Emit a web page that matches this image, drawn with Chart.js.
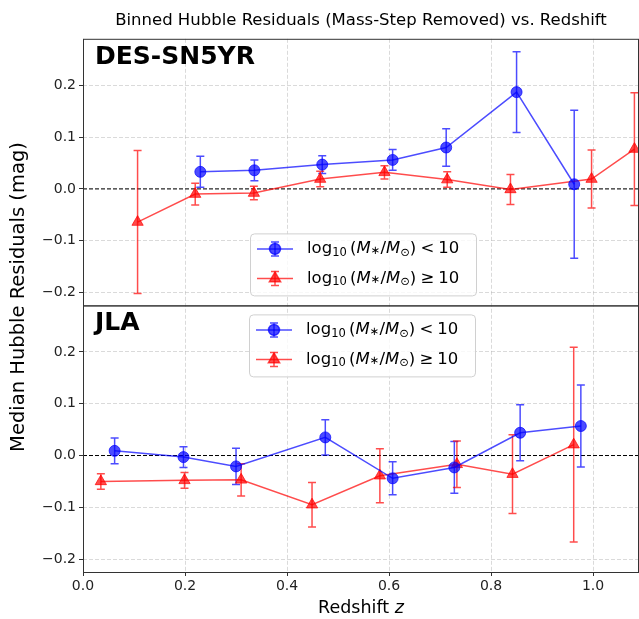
<!DOCTYPE html>
<html>
<head>
<meta charset="utf-8">
<script src="https://cdn.jsdelivr.net/npm/chart.js@4"></script>
<style>
  body { margin: 0; background: #fff; }
</style>
</head>
<body>
<canvas id="myChart" width="639" height="619"></canvas>
<script>
// DES-SN5YR, low mass hosts
const zDesLow = [0.230, 0.336, 0.469, 0.607, 0.712, 0.850, 0.963];
const resDesLow = [0.033, 0.036, 0.047, 0.056, 0.080, 0.187, 0.009];
const errDesLow = [0.030, 0.020, 0.017, 0.020, 0.036, 0.078, 0.143];

// DES-SN5YR, high mass hosts
const zDesHigh = [0.107, 0.220, 0.335, 0.465, 0.591, 0.714, 0.838, 0.997, 1.081];
const resDesHigh = [-0.064, -0.010, -0.008, 0.019, 0.032, 0.018, -0.001, 0.019, 0.077];
const errDesHigh = [0.138, 0.021, 0.013, 0.015, 0.013, 0.015, 0.029, 0.056, 0.109];

// JLA, low mass hosts
const zJlaLow = [0.062, 0.197, 0.300, 0.475, 0.607, 0.728, 0.857, 0.976];
const resJlaLow = [0.009, -0.003, -0.021, 0.035, -0.044, -0.023, 0.044, 0.057];
const errJlaLow = [0.025, 0.020, 0.035, 0.034, 0.032, 0.050, 0.054, 0.079];

// JLA, high mass hosts
const zJlaHigh = [0.035, 0.199, 0.310, 0.449, 0.582, 0.733, 0.842, 0.962];
const resJlaHigh = [-0.050, -0.048, -0.047, -0.095, -0.039, -0.017, -0.036, 0.021];
const errJlaHigh = [0.015, 0.015, 0.031, 0.043, 0.052, 0.045, 0.076, 0.188];

const panelNames = ['DES-SN5YR', 'JLA'];
const yTicks = [-0.2, -0.1, 0.0, 0.1, 0.2];
const xTicks = [0.0, 0.2, 0.4, 0.6, 0.8, 1.0];

const BLUE = 'rgba(0,0,255,0.7)';
const RED = 'rgba(255,0,0,0.7)';
const FONT = "'DejaVu Sans'";

Chart.defaults.font.family = FONT;
Chart.defaults.color = '#222';

function pts(xs, ys) {
	return xs.map((x, i) => ({x: x, y: ys[i]}));
}

function series(label, xs, ys, errs, color, style, axis) {
	return {
		label: label,
		data: pts(xs, ys),
		errors: errs,
		yAxisID: axis,
		borderColor: color,
		backgroundColor: color,
		borderWidth: 1.5,
		pointStyle: style,
		pointRadius: style == 'circle' ? 5.5 : 6.5,
		pointBorderWidth: 1,
		pointBackgroundColor: color,
		pointBorderColor: color,
		tension: 0,
	};
}

function tickFmt(v) {
	if (Math.abs(v) < 1e-9) return '0.0';
	return v.toFixed(1).replace('-', '\u2212');
}

// math-ish legend label: log10 (M*/Msun) < 10
function drawMathLabel(ctx, x, y, rel) {
	const fs = 16.5, ss = 11.5;
	const parts = [
		['log', fs + 'px ' + FONT, 0],
		['10', ss + 'px ' + FONT, 4],
		['\u2009(', fs + 'px ' + FONT, 0],
		['M', 'italic ' + fs + 'px ' + FONT, 0],
		['\u2217', ss + 'px ' + FONT, 2],
		['/', fs + 'px ' + FONT, 0],
		['M', 'italic ' + fs + 'px ' + FONT, 0],
		['\u2299', ss + 'px ' + FONT, 4],
		[')', fs + 'px ' + FONT, 0],
		['\u2005' + rel + '\u2005' + '10', fs + 'px ' + FONT, 0],
	];
	ctx.textAlign = 'left';
	ctx.textBaseline = 'middle';
	ctx.fillStyle = '#000';
	for (const p of parts) {
		ctx.font = p[1];
		ctx.fillText(p[0], x, y + p[2]);
		x += ctx.measureText(p[0]).width;
	}
}

function errorBar(ctx, x, y1, y2, cap) {
	ctx.beginPath();
	ctx.moveTo(x, y1); ctx.lineTo(x, y2);
	ctx.moveTo(x - cap, y1); ctx.lineTo(x + cap, y1);
	ctx.moveTo(x - cap, y2); ctx.lineTo(x + cap, y2);
	ctx.stroke();
}

const panelPlugin = {
	id: 'panels',
	beforeDatasetsDraw(chart) {
		const ctx = chart.ctx, area = chart.chartArea;
		ctx.save();
		// zero lines
		for (const id of ['yTop', 'yBot']) {
			const py = chart.scales[id].getPixelForValue(0);
			ctx.strokeStyle = '#000';
			ctx.lineWidth = 1;
			ctx.setLineDash([4, 2]);
			ctx.beginPath();
			ctx.moveTo(area.left, py);
			ctx.lineTo(area.right, py);
			ctx.stroke();
		}
		ctx.setLineDash([]);
		// error bars
		ctx.beginPath();
		ctx.rect(area.left, area.top, area.right - area.left, area.bottom - area.top);
		ctx.clip();
		chart.data.datasets.forEach((ds, i) => {
			const meta = chart.getDatasetMeta(i);
			const ys = chart.scales[ds.yAxisID];
			ctx.strokeStyle = ds.borderColor;
			ctx.lineWidth = 1.5;
			meta.data.forEach((el, j) => {
				const v = ds.data[j].y, e = ds.errors[j];
				errorBar(ctx, el.x, ys.getPixelForValue(v + e), ys.getPixelForValue(v - e), 4);
			});
		});
		ctx.restore();
	},
	afterDraw(chart) {
		const ctx = chart.ctx, area = chart.chartArea;
		const panels = [chart.scales.yTop, chart.scales.yBot];
		ctx.save();
		// frames
		ctx.strokeStyle = '#333';
		ctx.lineWidth = 1;
		panels.forEach(s => {
			ctx.strokeRect(area.left + 0.5, s.top + 0.5, area.right - area.left - 1, s.bottom - s.top);
		});
		// panel names
		ctx.fillStyle = '#000';
		ctx.font = 'bold 25px ' + FONT;
		ctx.textAlign = 'left';
		ctx.textBaseline = 'alphabetic';
		panels.forEach((s, k) => {
			ctx.fillText(panelNames[k], area.left + 12, s.top + 25);
		});
		// legends
		const boxes = [
			{left: 250, top: panels[0].bottom - 72},
			{left: 249, top: panels[1].top + 9},
		];
		boxes.forEach((b, k) => {
			const w = 226, h = 62;
			ctx.fillStyle = 'rgba(255,255,255,0.8)';
			ctx.strokeStyle = '#d0d0d0';
			ctx.lineWidth = 1;
			ctx.beginPath();
			ctx.roundRect(b.left + 0.5, b.top + 0.5, w, h, 4);
			ctx.fill();
			ctx.stroke();
			const dsPair = [chart.data.datasets[k * 2], chart.data.datasets[k * 2 + 1]];
			const rels = ['<', '\u2265'];
			dsPair.forEach((ds, r) => {
				const cy = b.top + 15.5 + r * 29.5;
				ctx.strokeStyle = ds.borderColor;
				ctx.lineWidth = 1.5;
				ctx.beginPath();
				ctx.moveTo(b.left + 7, cy);
				ctx.lineTo(b.left + 43, cy);
				ctx.stroke();
				errorBar(ctx, b.left + 25, cy - 7, cy + 7, 4);
				ctx.fillStyle = ds.backgroundColor;
				Chart.helpers.drawPoint(ctx, {
					pointStyle: ds.pointStyle,
					radius: ds.pointRadius,
					borderWidth: 1,
					rotation: 0,
				}, b.left + 25, cy);
				drawMathLabel(ctx, b.left + 57, cy, rels[r]);
			});
		});
		// axis titles
		ctx.fillStyle = '#000';
		ctx.font = '19.5px ' + FONT;
		ctx.textAlign = 'center';
		ctx.textBaseline = 'middle';
		ctx.save();
		ctx.translate(19, 297);
		ctx.rotate(-Math.PI / 2);
		ctx.fillText('Median Hubble Residuals (mag)', 0, 0);
		ctx.restore();
		const a = 'Redshift ', zt = 'z';
		ctx.font = '17.5px ' + FONT;
		const wa = ctx.measureText(a).width;
		ctx.font = 'italic 17.5px ' + FONT;
		const wz = ctx.measureText(zt).width;
		const x0 = (area.left + area.right) / 2 - (wa + wz) / 2;
		ctx.textAlign = 'left';
		ctx.font = '17.5px ' + FONT;
		ctx.fillText(a, x0, 608);
		ctx.font = 'italic 17.5px ' + FONT;
		ctx.fillText(zt, x0 + wa, 608);
		ctx.restore();
	}
};

function yAxis() {
	return {
		type: 'linear',
		position: 'left',
		stack: 'panels',
		stackWeight: 1,
		min: -0.225,
		max: 0.29,
		afterBuildTicks: s => { s.ticks = yTicks.map(v => ({value: v})); },
		afterFit: s => { s.width = 83; },
		ticks: {
			callback: tickFmt,
			font: {size: 14},
			color: '#222',
			padding: 3,
		},
		grid: {
			color: 'rgba(176,176,176,0.6)',
			lineWidth: 0.8,
			tickColor: '#333',
			tickLength: 4,
			tickWidth: 1,
			tickBorderDash: [],
		},
		border: {display: false, dash: [4, 2]},
	};
}

const ctx = document.getElementById('myChart');

let chart = new Chart(ctx, {
	type: 'line',
	data: {
		datasets: [
			series('DES low', zDesLow, resDesLow, errDesLow, BLUE, 'circle', 'yTop'),
			series('DES high', zDesHigh, resDesHigh, errDesHigh, RED, 'triangle', 'yTop'),
			series('JLA low', zJlaLow, resJlaLow, errJlaLow, BLUE, 'circle', 'yBot'),
			series('JLA high', zJlaHigh, resJlaHigh, errJlaHigh, RED, 'triangle', 'yBot'),
		],
	},
	options: {
		responsive: false,
		animation: false,
		devicePixelRatio: 1,
		layout: {autoPadding: false, padding: {left: 0, right: 0, top: 0, bottom: 0}},
		plugins: {
			legend: {display: false},
			tooltip: {enabled: false},
			title: {
				display: true,
				fullSize: false,
				text: 'Binned Hubble Residuals (Mass-Step Removed) vs. Redshift',
				color: '#000',
				font: {size: 16.5, weight: 'normal'},
				padding: {top: 11, bottom: 8},
			},
		},
		scales: {
			x: {
				type: 'linear',
				min: 0,
				max: 1.09,
				afterBuildTicks: s => { s.ticks = xTicks.map(v => ({value: v})); },
				afterFit: s => { s.height = 47; s.paddingLeft = 0; s.paddingRight = 0; },
				ticks: {
					callback: v => v.toFixed(1),
					font: {size: 14},
					color: '#222',
					padding: 2,
					maxRotation: 0,
				},
				grid: {
					color: 'rgba(176,176,176,0.6)',
					lineWidth: 0.8,
					tickColor: '#333',
					tickLength: 4,
					tickWidth: 1,
					tickBorderDash: [],
				},
				border: {display: false, dash: [4, 2]},
			},
			yBot: yAxis(),
			yTop: yAxis(),
		},
	},
	plugins: [panelPlugin],
});
</script>
</body>
</html>
